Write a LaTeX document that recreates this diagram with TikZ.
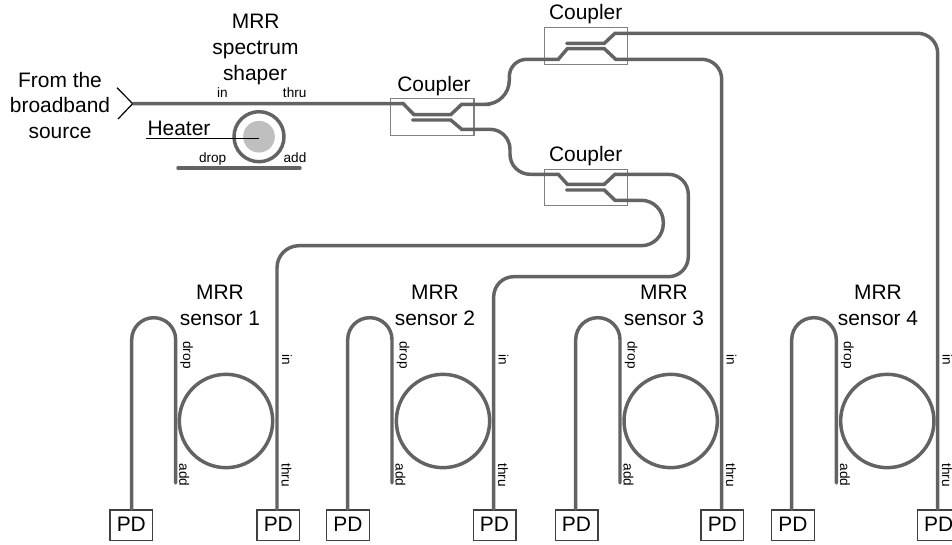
\documentclass[tikz,border=0pt]{standalone}
\usepackage{fontspec}
\setmainfont{Liberation Sans}
\definecolor{wgc}{HTML}{636363}
\tikzset{
  wg/.style={draw=wgc,line width=2.6pt,line cap=round},
  big/.style={font=\fontsize{15.7}{18}\selectfont,anchor=base,inner sep=0pt},
  small/.style={font=\fontsize{10.2}{12}\selectfont,anchor=base,inner sep=0pt,text=black},
  vsmall/.style={small,rotate=-90},
  pdbox/.style={draw=black!75,line width=1pt,minimum width=32pt,minimum height=23pt,inner sep=0pt,
    text height=11pt,text depth=2pt,font=\fontsize{15.7}{18}\selectfont},
  couplerbox/.style={draw=black!50,line width=.8pt,minimum width=62.5pt,minimum height=27.4pt,inner sep=0pt},
  ringnode/.style={circle,draw=wgc,line width=2.6pt,inner sep=0pt},
}
\begin{document}
\begin{tikzpicture}[x=.75pt,y=-.75pt]
\useasboundingbox (0,0) rectangle (952,545);
\clip (0,0) rectangle (952,545);
% coupler boxes
\node[couplerbox] (c1) at (432.3,117) {};
\node[couplerbox] (c2) at (586,46) {};
\node[couplerbox] (c3) at (586,187.6) {};
\node[big] (c1t) at (434,92) {Coupler};
\node[big] (c2t) at (585.7,19.7) {Coupler};
\node[big] (c3t) at (585.7,161.7) {Coupler};
% sensors
\foreach \i/\rx/\bx/\lx/\pa/\pb/\tx/\sx in {
  1/226/175.7/131.7/131.3/278.3/277/220,
  2/443/392/347.7/348/494.5/493.7/435,
  3/670.7/620/575.7/576.5/722.3/721.7/664,
  4/887.3/836.3/791.7/793/938.7/937.7/878}{
  \node[ringnode,minimum size=70pt] (ring\i) at (\rx,421) {};
  \node[pdbox] (pda\i) at (\pa,525.3) {PD};
  \node[pdbox] (pdb\i) at (\pb,525.3) {PD};
  \draw[wg,rounded corners=16.5pt] (\bx,483) -- (\bx,317.7) -- (\lx,317.7) -- (\lx,0 |- pda\i.north);
  \node[big] (mrr\i) at (\sx,299.3) {MRR};
  \node[big] (sen\i) at (\sx,325.7) {sensor \i};
  \node[vsmall] (drop\i) at (\bx+7.5,355) {drop};
  \node[vsmall] (add\i) at (\bx+3.7,475) {add};
  \node[vsmall] (in\i) at (\tx+5,360) {in};
  \node[vsmall] (thru\i) at (\tx+4.5,475) {thru};
}
% input chevron
\coordinate (inp) at (132.7,103.7);
\coordinate (cha) at (117,87.7);
\coordinate (chb) at (118,119);
\draw[black,line width=.9pt] (cha) -- (inp) -- (chb);
% main line: input, coupler 1 top arm, on to coupler 2, sensor 3
\draw[wg,line cap=butt] (inp) -- (403.3,103.7) -- (414,114.7) -- (450.7,114.7) -- (461.7,104.3)
  -- (490,104.3)
  [rounded corners=18pt] -- (509.3,104.3) [rounded corners=13pt] -- (509.3,59.3) [sharp corners]
  -- (558.3,59.3) -- (567.3,48.7) -- (604.3,48.7) -- (615.7,59.3)
  [rounded corners=15pt] -- (721.7,59.3) [sharp corners] -- (721.7,0 |- pdb3.north);
% coupler 1 lower arm to coupler 3 upper arm, sensor 2
\draw[wg] (412.7,120) -- (450.7,120) -- (461.7,129.3) -- (490,129.3)
  [rounded corners=15pt] -- (510,129.3) [rounded corners=15pt] -- (510,174.3) [sharp corners]
  -- (558.3,174.3) -- (567.3,184.3) -- (604.3,184.3) -- (615,174.3)
  [rounded corners=15pt] -- (688.3,174.3) -- (688.3,276.7) -- (493.7,276.7) -- (493.7,0 |- pdb2.north);
% coupler 3 lower arm to sensor 1
\draw[wg] (566.7,190) -- (604.3,190) -- (615,200.3)
  [rounded corners=16.5pt] -- (663.3,200.3) -- (663.3,245.7) -- (277,245.7) -- (277,0 |- pdb1.north);
% coupler 2 upper arm to sensor 4
\draw[wg] (566.7,43.3) -- (604.3,43.3) -- (615,33.3)
  [rounded corners=15pt] -- (937.7,33.3) -- (937.7,0 |- pdb4.north);
% spectrum shaper
\node[circle,fill=black!25,minimum size=23.8pt,inner sep=0pt] (heat) at (259,136.7) {};
\node[ringnode,minimum size=37.5pt] (sring) at (259,136.7) {};
\coordinate (busa) at (178,168);
\coordinate (busb) at (300,168);
\draw[wg] (busa) -- (busb);
\coordinate (heatend) at (146,138.3);
\draw[black,line width=.9pt] (heatend) -- (heat.center |- heatend);
% texts
\node[big] (t1) at (255.7,28.3) {MRR};
\node[big] (t2) at (255.5,54.3) {spectrum};
\node[big] (t3) at (255,81) {shaper};
\node[big] (t4) at (60,87.3) {From the};
\node[big] (t5) at (60,113) {broadband};
\node[big] (t6) at (60,139) {source};
\node[big] (t7) at (179,135.7) {Heater};
\node[small] (l1) at (222.5,97.7) {in};
\node[small] (l2) at (294.7,97.7) {thru};
\node[small] (l3) at (212.7,162.7) {drop};
\node[small] (l4) at (295,162.7) {add};
\end{tikzpicture}
\end{document}
